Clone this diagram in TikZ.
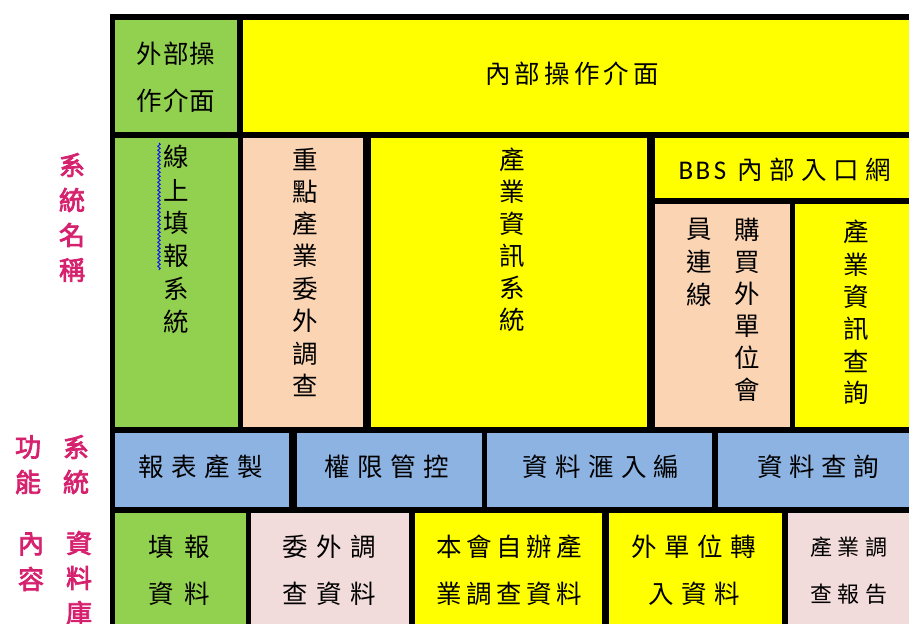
\documentclass[tikz,border=0pt]{standalone}
\usepackage{fontspec}
\newfontfamily\cjk{Noto Sans CJK TC}
\newfontfamily\cjkbold[FakeBold=3]{Noto Sans CJK TC}
\newfontfamily\latin{Carlito}
\usetikzlibrary{decorations.pathmorphing}

\definecolor{cellgreen}{HTML}{92D050}
\definecolor{cellyellow}{HTML}{FFFF00}
\definecolor{cellpeach}{HTML}{FBD4B4}
\definecolor{cellblue}{HTML}{8DB3E2}
\definecolor{cellpink}{HTML}{F2DBDB}
\definecolor{labelred}{HTML}{D6226E}

% one fixed-width box per character
\makeatletter
\newcommand\spread[2]{\@tfor\onechar:=#2\do{\makebox[#1][c]{\onechar}}}
\makeatother

\tikzset{
  txt/.style={inner sep=0pt, font=\cjk\fontsize{25.5}{28}\selectfont},
  small/.style={inner sep=0pt, font=\cjk\fontsize{22}{24}\selectfont},
  side/.style={inner sep=0pt, text=labelred, font=\cjkbold\fontsize{26}{28}\selectfont}
}

\begin{document}
\begin{tikzpicture}[x=1pt, y=-1pt]
    \clip (0,0) rectangle (909,623);
    \fill[white] (0,0) rectangle (909,623);

    % frame
    \fill[black] (110,14) rectangle (920,630);

    % row 1
    \fill[cellgreen]  (115,20) rectangle (237,132);
    \fill[cellyellow] (243,20) rectangle (920,132);

    % row 2
    \fill[cellgreen]  (115,138) rectangle (238,427);
    \fill[cellpeach]  (243,138) rectangle (363,427);
    \fill[cellyellow] (371,138) rectangle (647,427);
    \fill[cellyellow] (655,138) rectangle (920,198);
    \fill[cellpeach]  (655,204) rectangle (790,427);
    \fill[cellyellow] (795,204) rectangle (920,427);

    % row 3
    \fill[cellblue] (115,433) rectangle (289,507);
    \fill[cellblue] (297,433) rectangle (482,507);
    \fill[cellblue] (487,433) rectangle (712,507);
    \fill[cellblue] (718,433) rectangle (920,507);

    % row 4
    \fill[cellgreen]  (115,513) rectangle (246,630);
    \fill[cellpink]   (251,513) rectangle (409,630);
    \fill[cellyellow] (415,513) rectangle (602,630);
    \fill[cellyellow] (609,513) rectangle (782,630);
    \fill[cellpink]   (788,513) rectangle (920,630);

    % side labels
    \foreach \c [count=\i] in {系,統,名,稱}
      \node[side] (name\i) at (72,130+35*\i) {\c};
    \foreach \c [count=\i] in {功,能}
      \node[side] (func\i) at (28,412+35*\i) {\c};
    \foreach \c [count=\i] in {系,統}
      \node[side] (fsys\i) at (76,412+35*\i) {\c};
    \foreach \c [count=\i] in {內,容}
      \node[side] (cont\i) at (31,509+35*\i) {\c};
    \foreach \c [count=\i] in {資,料,庫}
      \node[side] (dbase\i) at (79,508+35*\i) {\c};

    % interfaces
    \node[txt] (ext1) at (176,54) {\spread{26.5pt}{外部操}};
    \node[txt] (ext2) at (176,101) {\spread{26.5pt}{作介面}};
    \node[txt] (int) at (572,74) {\spread{29.6pt}{內部操作介面}};
    \node[txt] (bbs) at (786,170) {{\latin\fontsize{27}{28}\selectfont\spread{17pt}{BBS}}\hspace{6pt}\spread{32pt}{內部入口網}};

    % systems
    \foreach \c [count=\i] in {線,上,填,報,系,統}
      \node[txt] (online\i) at (176,124+33*\i) {\c};
    \coordinate (wave1) at (159,143);
    \coordinate (wave2) at (159,270);
    \draw[blue, line width=0.8pt, decorate,
      decoration={snake, amplitude=1.3pt, segment length=4pt}] (wave1) -- (wave2);
    \foreach \c [count=\i] in {重,點,產,業,委,外,調,查}
      \node[txt] (survey\i) at (305,126.6+32.4*\i) {\c};
    \foreach \c [count=\i] in {產,業,資,訊,系,統}
      \node[txt] (info\i) at (512,128+32*\i) {\c};
    \foreach \c [count=\i] in {員,連,線}
      \node[txt] (staff\i) at (699,197+32.5*\i) {\c};
    \foreach \c [count=\i] in {購,買,外,單,位,會}
      \node[txt] (buyer\i) at (747,198+32*\i) {\c};
    \foreach \c [count=\i] in {產,業,資,訊,查,詢}
      \node[txt] (query\i) at (856,200+32.2*\i) {\c};

    % functions
    \node[txt] (report) at (201,467) {\spread{33pt}{報表產製}};
    \node[txt] (access) at (387,467) {\spread{33pt}{權限管控}};
    \node[txt] (import) at (601,467) {\spread{32.8pt}{資料滙入編}};
    \node[txt] (search) at (818,467) {\spread{32pt}{資料查詢}};

    % databases
    \node[txt] (fill1) at (179,547) {\spread{36pt}{填報}};
    \node[txt] (fill2) at (179,594) {\spread{36pt}{資料}};
    \node[txt] (out1) at (329,547) {\spread{34pt}{委外調}};
    \node[txt] (out2) at (329,594) {\spread{34pt}{查資料}};
    \node[txt] (own1) at (509,547) {\spread{30pt}{本會自辦產}};
    \node[txt] (own2) at (509,594) {\spread{30pt}{業調查資料}};
    \node[txt] (trans1) at (694,547) {\spread{33pt}{外單位轉}};
    \node[txt] (trans2) at (694,594) {\spread{33pt}{入資料}};
    \node[small] (rep1) at (849,547) {\spread{27.5pt}{產業調}};
    \node[small] (rep2) at (849,594) {\spread{27.5pt}{查報告}};
\end{tikzpicture}
\end{document}
